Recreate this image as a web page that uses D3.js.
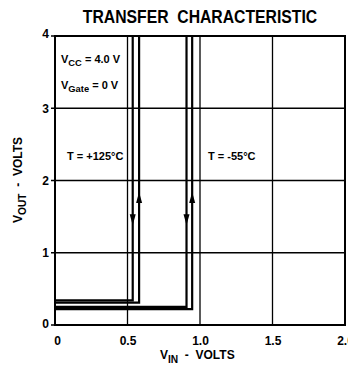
<!DOCTYPE html>
<html><head><meta charset="utf-8">
<script src="https://cdn.jsdelivr.net/npm/d3@7"></script>
<style>html,body{margin:0;padding:0;background:#fff;}svg{display:block;}text{white-space:pre;}</style>
</head><body>
<script>
const xTicks = [0, 0.5, 1.0, 1.5, 2.0];
const xTickLabels = ["0", "0.5", "1.0", "1.5", "2.0"];
const yTicks = [0, 1, 2, 3, 4];
const yTickLabels = ["0", "1", "2", "3", "4"];

// hysteresis loops: rising (up) and falling (down) paths, [VIN, VOUT]
const hot125Rising = [[0, 0.31], [0.580, 0.31], [0.580, 4]];
const hot125Falling = [[0.536, 4], [0.536, 0.34], [0, 0.34]];
const cold55Rising = [[0, 0.22], [0.946, 0.22], [0.946, 4]];
const cold55Falling = [[0.907, 4], [0.907, 0.25], [0, 0.25]];

// arrow heads on the lines: [VIN, VOUT at tip, direction]
const arrows = [
  [0.580, 1.84, "up"], [0.536, 1.38, "down"],
  [0.946, 1.84, "up"], [0.907, 1.38, "down"]
];

const W = 348, H = 368;
const m = {left: 55, right: 3, top: 36, bottom: 43};
const svg = d3.select("body").append("svg").attr("width", W).attr("height", H);
const x = d3.scaleLinear().domain([0, 2]).range([m.left, W - m.right]);
const y = d3.scaleLinear().domain([0, 4]).range([H - m.bottom, m.top]);
const font = "'Liberation Sans Narrow', 'Liberation Sans', Arial, sans-serif";

// title (horizontally condensed)
svg.append("text").attr("transform", "translate(200,23) scale(0.875,1)").attr("text-anchor", "middle")
  .attr("font-family", font).attr("font-weight", "bold").attr("font-size", 18)
  .text("TRANSFER  CHARACTERISTIC");

// grid
const g = svg.append("g");
g.selectAll(".vg").data(xTicks).join("line")
  .attr("x1", d => x(d)).attr("x2", d => x(d))
  .attr("y1", y(4)).attr("y2", y(0) + 1)
  .attr("stroke", "#000").attr("stroke-width", 1.3);
g.selectAll(".hg").data(yTicks).join("line")
  .attr("x1", x(0) - 4).attr("x2", x(2))
  .attr("y1", d => y(d)).attr("y2", d => y(d))
  .attr("stroke", "#000").attr("stroke-width", 1.3);
// frame
svg.append("rect").attr("x", x(0)).attr("y", y(4)).attr("width", x(2) - x(0)).attr("height", y(0) - y(4))
  .attr("fill", "none").attr("stroke", "#000").attr("stroke-width", 2);

// axes (labels only)
const xAxis = d3.axisBottom(x).tickValues(xTicks).tickFormat((d, i) => xTickLabels[i]).tickSize(0).tickPadding(11);
const gx = svg.append("g").attr("transform", `translate(0,${y(0)})`).call(xAxis);
gx.select(".domain").remove();
gx.selectAll("text").attr("font-family", font).attr("font-weight", "bold").attr("font-size", 12).attr("fill", "#000").attr("dx", (d, i) => i === 0 ? 2 : 0);
const yAxis = d3.axisLeft(y).tickValues(yTicks).tickFormat((d, i) => yTickLabels[i]).tickSize(0).tickPadding(6);
const gy = svg.append("g").attr("transform", `translate(${x(0)},0)`).call(yAxis);
gy.select(".domain").remove();
gy.selectAll("text").attr("font-family", font).attr("font-weight", "bold").attr("font-size", 12).attr("fill", "#000").attr("dy", (d) => d === 4 ? "0.15em" : d === 0 ? "0.2em" : "0.32em");

// curves
const line = d3.line().x(d => x(d[0])).y(d => y(d[1]));
[hot125Rising, hot125Falling, cold55Rising, cold55Falling].forEach(p => {
  svg.append("path").attr("d", line(p)).attr("fill", "none").attr("stroke", "#000").attr("stroke-width", 2.2);
});
// arrow heads
svg.selectAll(".arr").data(arrows).join("path")
  .attr("d", d => {
    const cx = x(d[0]), ty = y(d[1]);
    const s = d[2] === "up" ? 1 : -1;
    return `M${cx},${ty} L${cx - 3},${ty + s * 11} L${cx + 3},${ty + s * 11} Z`;
  }).attr("fill", "#000");

// annotations
function sub(main, subTxt, rest, px, py, size) {
  const tx = svg.append("text").attr("x", px).attr("y", py).attr("font-family", font).attr("font-weight", "bold").attr("font-size", size).attr("fill", "#000");
  tx.append("tspan").text(main);
  tx.append("tspan").attr("dy", size * 0.3).attr("font-size", size * 0.85).text(subTxt);
  tx.append("tspan").attr("dy", -size * 0.3).text(rest);
  return tx;
}
sub("V", "CC", " = 4.0 V", 61, 63, 11);
sub("V", "Gate", " = 0 V", 61, 89, 11);
svg.append("text").attr("x", 67).attr("y", 160).attr("font-family", font).attr("font-weight", "bold").attr("font-size", 11).text("T = +125°C");
svg.append("text").attr("x", 208).attr("y", 160).attr("font-family", font).attr("font-weight", "bold").attr("font-size", 11).text("T = -55°C");

// axis titles
sub("V", "IN", "  -  VOLTS", 160, 359, 12);
const yt = sub("V", "OUT", "  -  VOLTS", 0, 0, 12);
yt.attr("x", null).attr("y", null).attr("text-anchor", "middle").attr("transform", "translate(22,180) rotate(-90)");
</script>
</body></html>
